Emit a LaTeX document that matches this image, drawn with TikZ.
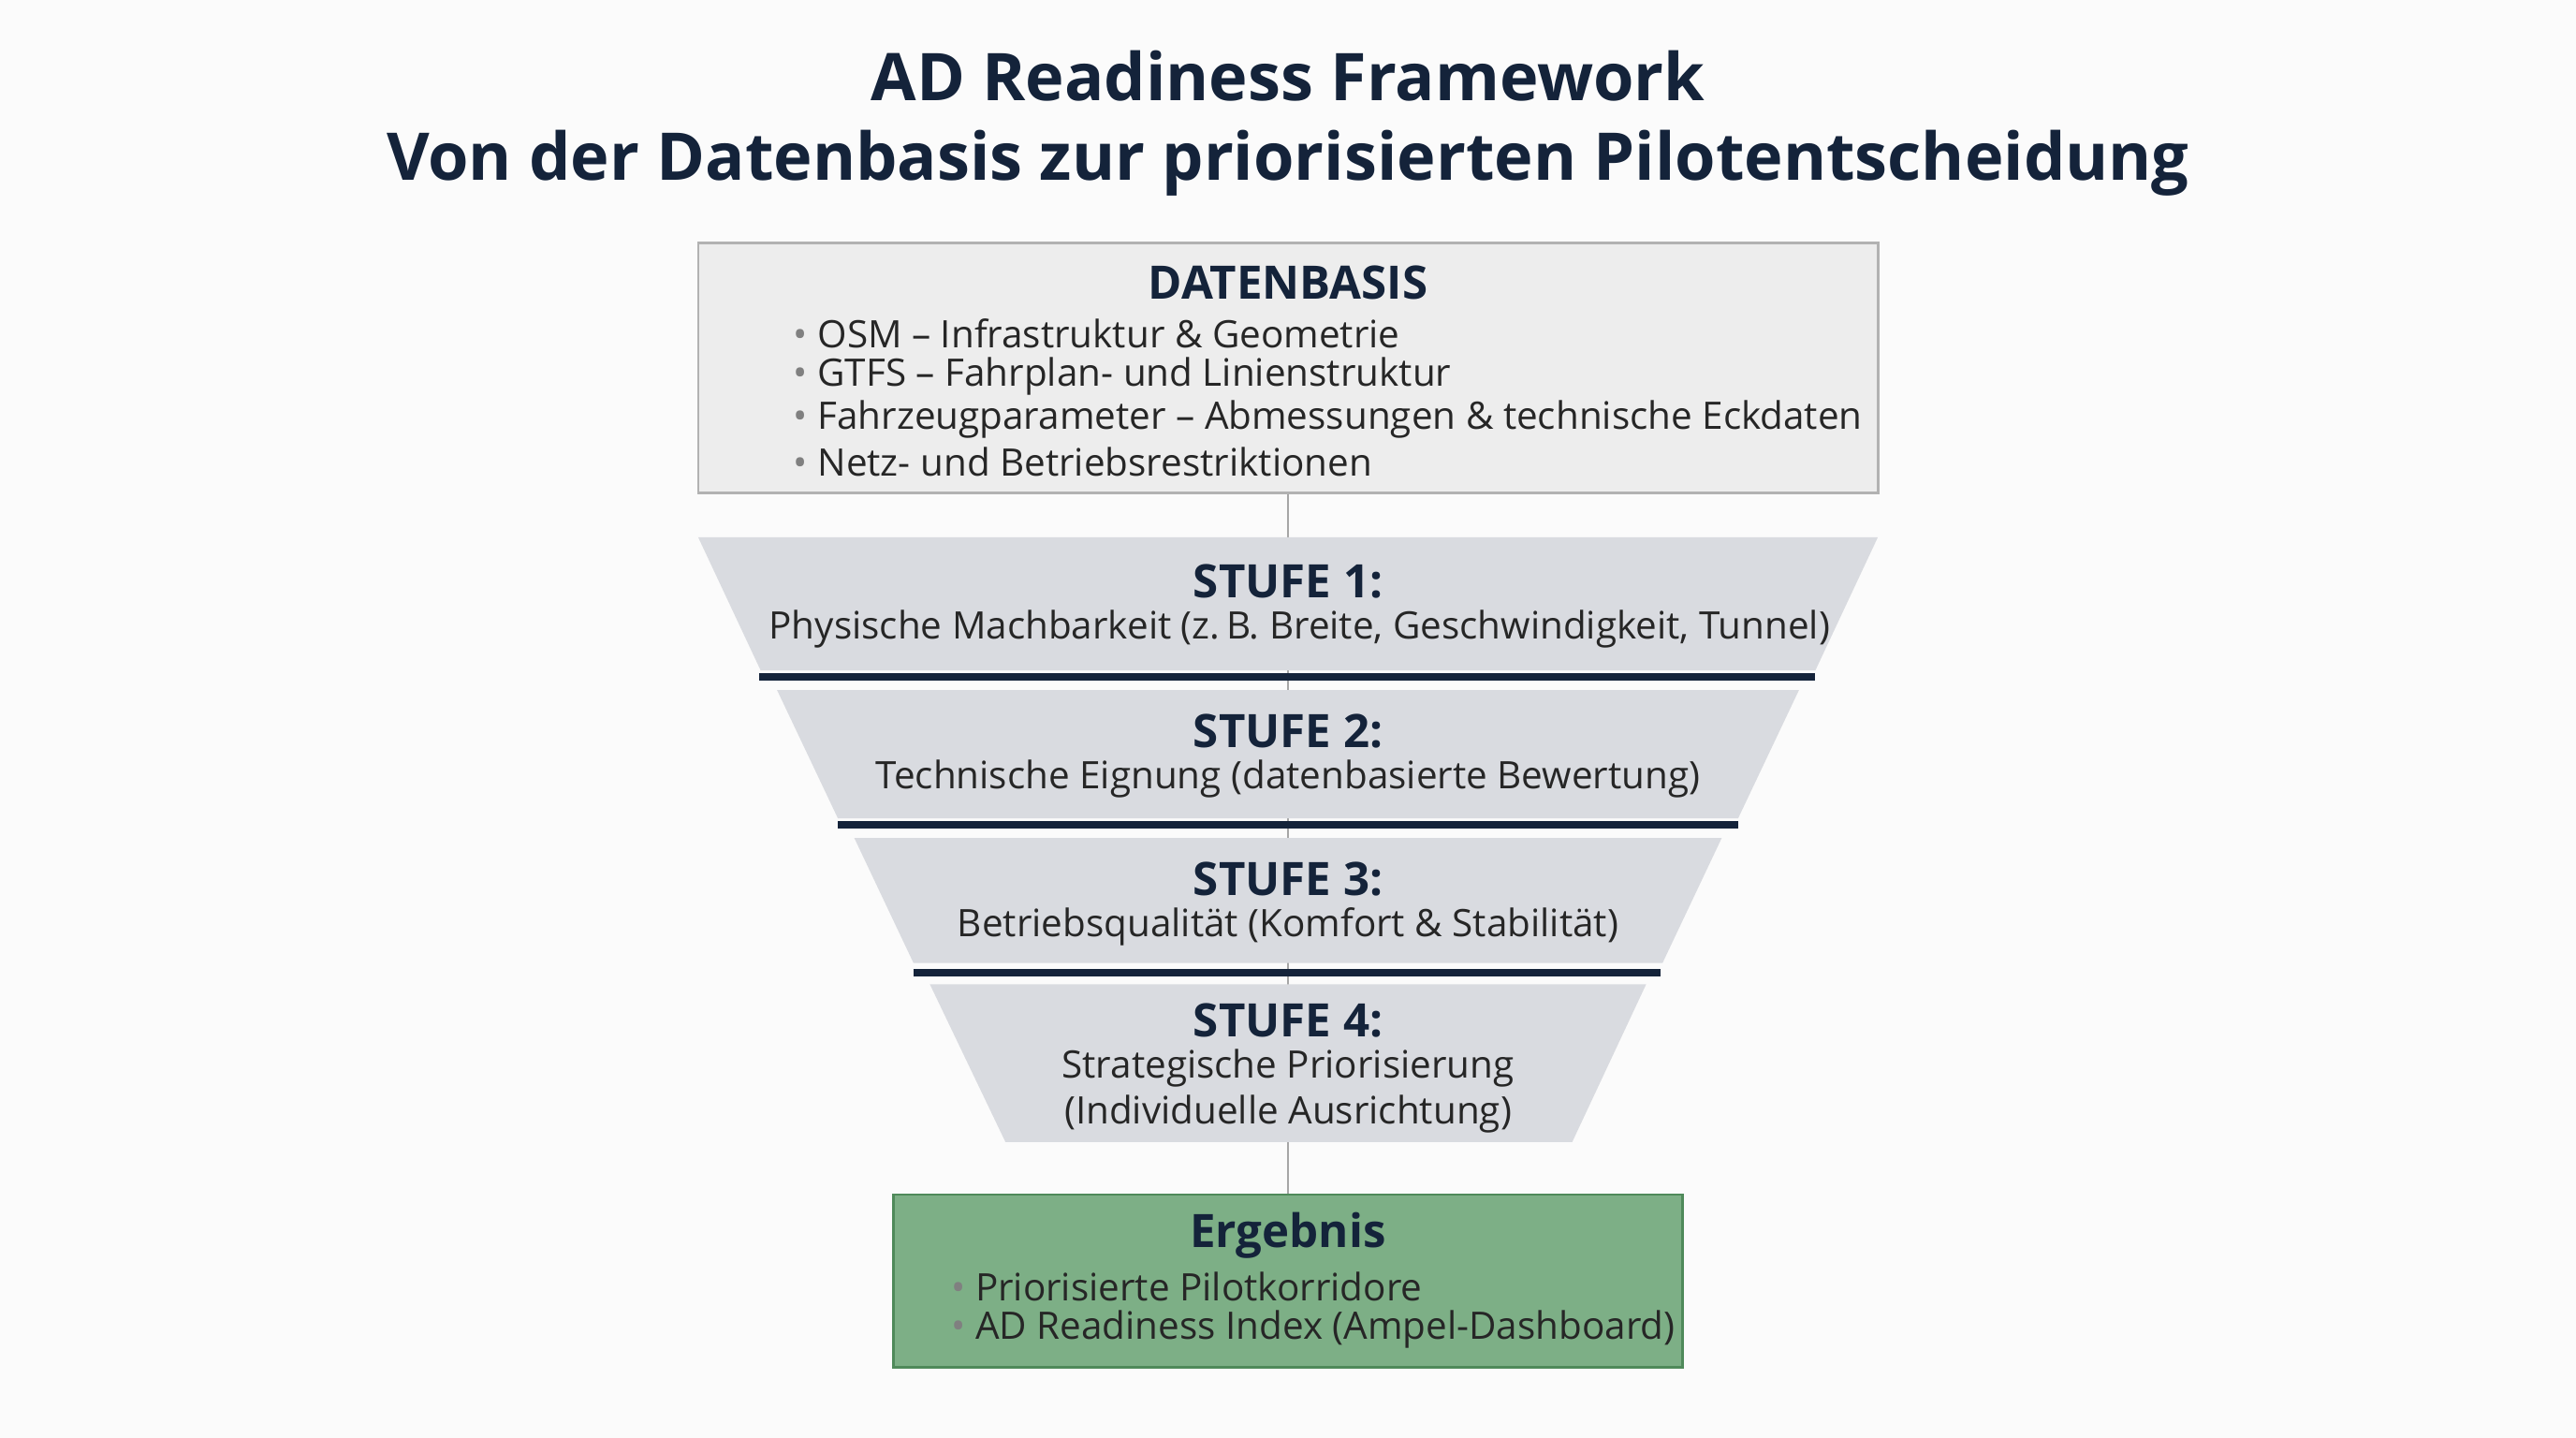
\documentclass[tikz,border=0pt]{standalone}
\usepackage{fontspec}
\setmainfont{Open Sans}
\usetikzlibrary{positioning}
\definecolor{navy}{HTML}{14233A}
\definecolor{boxgray}{HTML}{EDEDED}
\definecolor{funnelgray}{HTML}{D9DBE0}
\definecolor{resgreen}{HTML}{7DAF86}
\definecolor{resborder}{HTML}{4F8A5A}
\newcommand{\bul}{{\color{gray}\textbullet}\ }
\begin{document}
\begin{tikzpicture}[x=0.1755mm,y=-0.1755mm,
            heading/.style={font=\fontsize{20}{24}\selectfont\bfseries,text=navy,align=center},
            boxtitle/.style={font=\fontsize{14}{16}\selectfont\bfseries,text=navy},
            body/.style={font=\fontsize{11.5}{14}\selectfont,text=black!85,align=left,anchor=west},
            stage/.style={fill=funnelgray,draw=none},
            sep/.style={draw=navy,line width=2.2pt},
            link/.style={draw=gray!70,line width=0.8pt}
          ]
          \fill[white!97!gray] (0,0) rectangle (1568,875);
          \node[heading] (title) at (784,75) {AD Readiness Framework\\Von der Datenbasis zur priorisierten Pilotentscheidung};

          %data box
          \node[draw=gray!60,fill=boxgray,minimum width=718*0.1755mm,minimum height=152*0.1755mm,line width=0.8pt] (datenbasis) at (784,224) {};
          \node[boxtitle] (dtitle) at (784,172) {DATENBASIS};
          \node[body] (d1) at (476,203) {\bul OSM -- Infrastruktur \& Geometrie};
          \node[body] (d2) at (476,229) {\bul GTFS -- Fahrplan- und Linienstruktur};
          \node[body] (d3) at (476,255) {\bul Fahrzeugparameter -- Abmessungen \& technische Eckdaten};
          \node[body] (d4) at (476,281) {\bul Netz- und Betriebsrestriktionen};

          %result box
          \node[draw=resborder,fill=resgreen,minimum width=480*0.1755mm,minimum height=105*0.1755mm,line width=0.8pt] (ergebnis) at (784,779.5) {};
          \node[boxtitle] (etitle) at (784,752) {Ergebnis};
          \node[body] (e1) at (572,783) {\bul Priorisierte Pilotkorridore};
          \node[body] (e2) at (572,809) {\bul AD Readiness Index (Ampel-Dashboard)};

          \path[link] (datenbasis.south) -- (ergebnis.north);

          %funnel
          \fill[stage] (425,327) -- (1143,327) -- (1105,408) -- (463,408) -- cycle;
          \fill[stage] (473,420) -- (1095,420) -- (1058,498) -- (510,498) -- cycle;
          \fill[stage] (520,510) -- (1048,510) -- (1012,586) -- (556,586) -- cycle;
          \fill[stage] (566,599) -- (1002,599) -- (957,695) -- (612,695) -- cycle;
          \path[sep] (462,412) -- (1105,412);
          \path[sep] (510,502) -- (1058,502);
          \path[sep] (556,592) -- (1011,592);

          \node[boxtitle] (s1) at (784,354) {STUFE 1:};
          \node[body,anchor=center] (s1t) at (791,383) {Physische Machbarkeit (z.\,B. Breite, Geschwindigkeit, Tunnel)};
          \node[boxtitle] (s2) at (784,445) {STUFE 2:};
          \node[body,anchor=center] (s2t) at (784,474) {Technische Eignung (datenbasierte Bewertung)};
          \node[boxtitle] (s3) at (784,535) {STUFE 3:};
          \node[body,anchor=center] (s3t) at (784,564) {Betriebsqualität (Komfort \& Stabilität)};
          \node[boxtitle] (s4) at (784,621) {STUFE 4:};
          \node[body,anchor=center,align=center] (s4t) at (784,664) {Strategische Priorisierung\\(Individuelle Ausrichtung)};
      \end{tikzpicture}
\end{document}
